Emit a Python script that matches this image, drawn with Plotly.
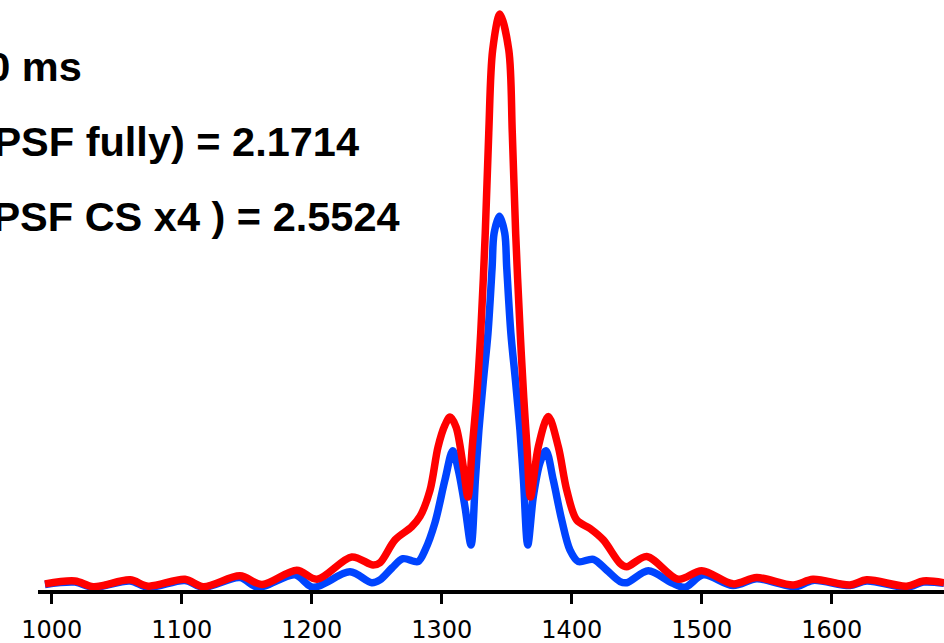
import plotly.graph_objects as go

# ---- data ----
x_fully = [994.8, 1017.9, 1032.0, 1060.2, 1074.3, 1102.5, 1116.6, 1144.8, 1161.8, 1188.5,
           1204.1, 1230.8, 1247.2, 1252.5, 1264.1, 1276.9, 1283.3, 1291.0, 1297.2, 1302.5,
           1306.4, 1311.0, 1316.6, 1320.2, 1323.5, 1326.9, 1330.0, 1333.5, 1336.2,
           1339.2, 1344.8, 1351.6, 1354.3, 1356.9, 1360.4, 1363.1, 1365.6, 1368.3, 1374.3,
           1382.0, 1389.7, 1396.2, 1403.8, 1414.1, 1424.3, 1437.2, 1442.3, 1457.7, 1482.0,
           1500.0, 1524.1, 1542.3, 1570.5, 1585.6, 1614.1, 1626.9, 1657.7, 1670.5, 1686.4]
y_fully = [0.002, 0.007, -0.003, 0.009, -0.002, 0.010, -0.003, 0.016, 0.001, 0.026,
           0.010, 0.049, 0.035, 0.039, 0.079, 0.102, 0.120, 0.166, 0.242, 0.280,
           0.294, 0.277, 0.207, 0.154, 0.242, 0.329, 0.441, 0.616, 0.792,
           0.937, 1.000, 0.937, 0.792, 0.616, 0.441, 0.329, 0.242, 0.154, 0.242,
           0.295, 0.242, 0.166, 0.114, 0.099, 0.079, 0.038, 0.032, 0.050, 0.010,
           0.025, 0.002, 0.013, 0.000, 0.010, 0.000, 0.009, -0.002, 0.007, 0.004]

x_cs4 = [994.8, 1017.9, 1032.0, 1060.2, 1074.3, 1102.5, 1116.6, 1144.8, 1158.7, 1187.2,
         1201.0, 1229.5, 1246.2, 1252.5, 1261.8, 1270.2, 1281.8, 1287.2, 1294.8, 1302.5,
         1308.5, 1312.8, 1317.9, 1322.6, 1325.9, 1328.6, 1332.1, 1335.6, 1338.8, 1340.3,
         1344.4, 1348.5, 1350.0, 1353.2, 1356.7, 1360.2, 1362.9, 1366.2, 1370.5, 1375.6,
         1380.2, 1385.8, 1392.3, 1398.7, 1405.1, 1416.6, 1426.9, 1437.2, 1442.3, 1458.9,
         1476.9, 1487.2, 1501.2, 1524.1, 1542.3, 1560.2, 1572.5, 1585.6, 1614.1, 1626.9,
         1657.7, 1670.5, 1686.4]
y_cs4 = [0.001, 0.005, -0.004, 0.007, -0.004, 0.008, -0.004, 0.013, -0.004, 0.018,
         -0.004, 0.023, 0.004, 0.009, 0.030, 0.046, 0.041, 0.061, 0.109, 0.184,
         0.235, 0.201, 0.137, 0.070, 0.184, 0.271, 0.359, 0.441, 0.557, 0.616,
         0.646, 0.616, 0.557, 0.441, 0.359, 0.271, 0.184, 0.070, 0.155, 0.214,
         0.235, 0.184, 0.114, 0.061, 0.041, 0.045, 0.026, 0.006, 0.004, 0.025,
         0.004, -0.004, 0.018, -0.001, 0.011, 0.002, -0.003, 0.008, -0.001, 0.007,
         -0.004, 0.005, 0.003]

tick_vals = [1000, 1100, 1200, 1300, 1400, 1500, 1600]
tick_text = ["1000", "1100", "1200", "1300", "1400", "1500", "1600"]

label_lines = ["t = 10 ms",
               "FWHM (PSF fully) = 2.1714",
               "FWHM (PSF CS x4 ) = 2.5524"]

# ---- figure ----
fig = go.Figure()
fig.add_trace(go.Scatter(x=x_cs4, y=y_cs4, mode="lines",
                         line=dict(color="#0044FF", width=7.5, shape="spline", smoothing=0.9),
                         showlegend=False, hoverinfo="skip"))
fig.add_trace(go.Scatter(x=x_fully, y=y_fully, mode="lines",
                         line=dict(color="#FF0000", width=7.5, shape="spline", smoothing=0.9),
                         showlegend=False, hoverinfo="skip"))

ann_right_px = [84, 361, 402]
ann_center_py = [67, 141, 216]
plot_left, plot_w, plot_h = 38, 906, 590
for txt, rx, cy in zip(label_lines, ann_right_px, ann_center_py):
    fig.add_annotation(text="<b>" + txt + "</b>", xref="paper", yref="paper",
                       x=(rx - plot_left) / plot_w, y=1 - cy / plot_h,
                       xanchor="right", yanchor="middle", showarrow=False,
                       font=dict(family="Liberation Sans, Arial, sans-serif", size=41.5, color="black"))

fig.update_layout(
    width=944, height=643,
    margin=dict(l=38, r=0, t=0, b=53),
    paper_bgcolor="white", plot_bgcolor="white",
    xaxis=dict(range=[989.46, 1686.38], tickvals=tick_vals, ticktext=tick_text,
               showline=True, linecolor="black", linewidth=4,
               ticks="outside", ticklen=10, tickwidth=3, tickcolor="black",
               ticklabelstandoff=5,
               showgrid=False, zeroline=False, automargin=False,
               tickfont=dict(family="DejaVu Sans", size=24, color="black")),
    yaxis=dict(range=[-0.00876, 1.02452], visible=False, showgrid=False, zeroline=False),
)

fig.write_html("out.html", config={"displayModeBar": False},
               post_script="document.body.style.margin='0px';document.body.style.overflow='hidden';")
